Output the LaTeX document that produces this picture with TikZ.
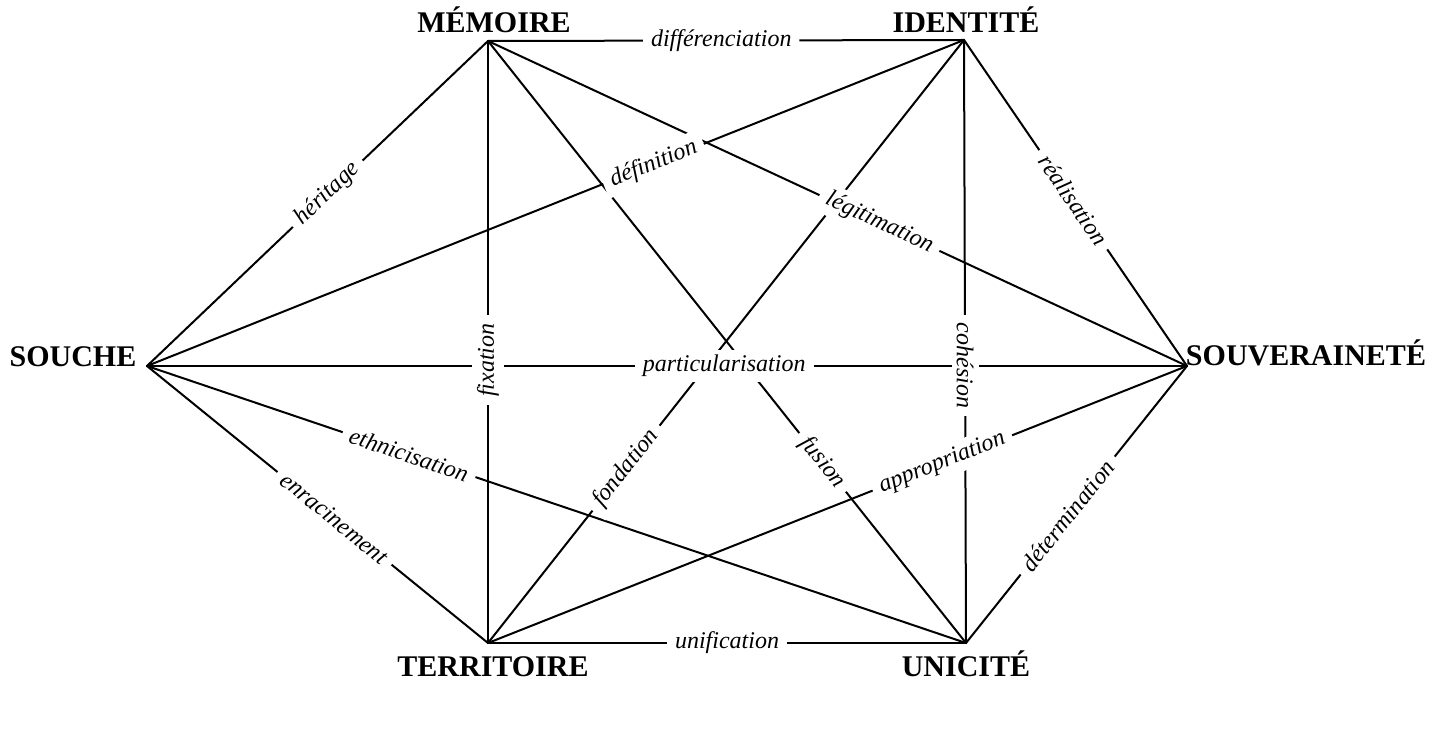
\documentclass[tikz,border=0pt]{standalone}
\usepackage{fontspec}
\setmainfont{Liberation Serif}
\begin{document}
\begin{tikzpicture}[x=1pt,y=1pt,
  edge/.style={line width=2pt,line cap=round},
  vlabel/.style={font=\bfseries\fontsize{30}{30}\selectfont,inner sep=0pt,anchor=base},
  lbl/.style={font=\itshape\fontsize{24}{24}\selectfont,fill=white,inner xsep=8pt,inner ysep=5pt,sloped}]
\useasboundingbox[fill=white] (0,0) rectangle (1429,737);
% vertices
\coordinate (m) at (488,696);
\coordinate (i) at (964,697);
\coordinate (s) at (147,371);
\coordinate (v) at (1187,371);
\coordinate (t) at (488,94);
\coordinate (u) at (966,94);
% vertex names
\node[vlabel] (mn) at (494,704) {MÉMOIRE};
\node[vlabel] (in) at (966,704) {IDENTITÉ};
\node[vlabel] (sn) at (73,370) {SOUCHE};
\node[vlabel] (vn) at (1306,371) {SOUVERAINETÉ};
\node[vlabel] (tn) at (493,61) {TERRITOIRE};
\node[vlabel] (un) at (966,61) {UNICITÉ};
% connectors
\draw[edge] (m) -- (i);
\draw[edge] (s) -- (m);
\draw[edge] (t) -- (m);
\draw[edge] (m) -- (u);
\draw[edge] (m) -- (v);
\draw[edge] (s) -- (i);
\draw[edge] (t) -- (i);
\draw[edge] (i) -- (u);
\draw[edge] (i) -- (v);
\draw[edge] (s) -- (v);
\draw[edge] (s) -- (t);
\draw[edge] (s) -- (u);
\draw[edge] (t) -- (u);
\draw[edge] (t) -- (v);
\draw[edge] (u) -- (v);
% connector labels
\path (m) -- (i) node[lbl,pos=0.49] (l1) {différenciation};
\path (s) -- (m) node[lbl,pos=0.53] (l2) {héritage};
\path (t) -- (m) node[lbl,pos=0.47,sloped=false,rotate=90] (l3) {fixation};
\path (m) -- (u) node[lbl,pos=0.70] (l4) {fusion};
\path (m) -- (v) node[lbl,pos=0.56] (l5) {légitimation};
\path (s) -- (i) node[lbl,pos=0.62] (l6) {définition};
\path (t) -- (i) node[lbl,pos=0.29] (l7) {fondation};
\path (i) -- (u) node[lbl,pos=0.54,sloped=false,rotate=-90] (l8) {cohésion};
\path (i) -- (v) node[lbl,pos=0.49] (l9) {réalisation};
\path (s) -- (v) node[lbl,pos=0.555] (l10) {particularisation};
\path (s) -- (t) node[lbl,pos=0.55] (l11) {enracinement};
\path (s) -- (u) node[lbl,pos=0.32] (l12) {ethnicisation};
\path (t) -- (u) node[lbl,pos=0.5] (l13) {unification};
\path (t) -- (v) node[lbl,pos=0.65] (l14) {appropriation};
\path (u) -- (v) node[lbl,pos=0.46] (l15) {détermination};
\end{tikzpicture}
\end{document}
